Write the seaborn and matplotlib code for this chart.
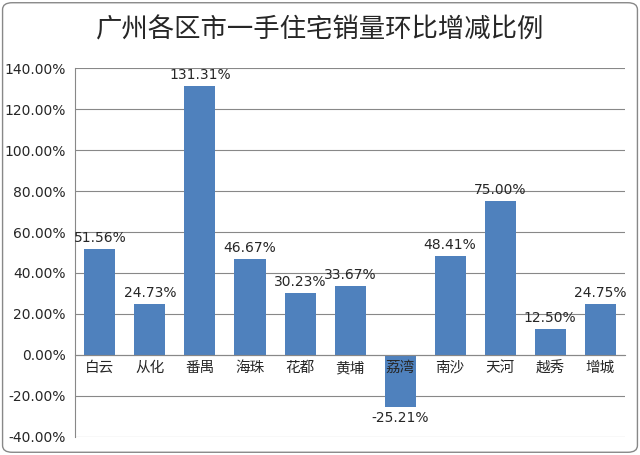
import matplotlib
matplotlib.use("Agg")
import matplotlib.pyplot as plt
import seaborn as sns
import pandas as pd
from matplotlib.patches import FancyBboxPatch

districts = ["白云", "从化", "番禺", "海珠", "花都", "黄埔", "荔湾", "南沙", "天河", "越秀", "增城"]
changes = [51.56, 24.73, 131.31, 46.67, 30.23, 33.67, -25.21, 48.41, 75.00, 12.50, 24.75]
yticks = [-40, -20, 0, 20, 40, 60, 80, 100, 120, 140]

sns.set_style("white")
plt.rcParams["font.family"] = ["Noto Sans CJK SC", "DejaVu Sans"]

df = pd.DataFrame({"district": districts, "change": changes})

fig = plt.figure(figsize=(6.4, 4.55), dpi=100)
fig.patches.append(FancyBboxPatch((0.004, 0.006), 0.992, 0.988, boxstyle="round,pad=0,rounding_size=0.015",
                                  transform=fig.transFigure, fill=False, edgecolor="#888888", linewidth=1))
ax = fig.add_axes([0.117, 0.04, 0.86, 0.81])
sns.barplot(data=df, x="district", y="change", color="#4F81BD", width=0.62, saturation=1,
            edgecolor="none", ax=ax)

ax.set_ylim(-40, 140)
ax.set_yticks(yticks)
ax.set_yticklabels([f"{v:.2f}%" for v in yticks], fontsize=10, fontfamily="DejaVu Sans")
ax.yaxis.grid(True, color="#888888", linewidth=0.8)
ax.set_axisbelow(True)
ax.set_xlabel("")
ax.set_ylabel("")
for s in ["top", "right"]:
    ax.spines[s].set_visible(False)
ax.spines["left"].set_color("#888888")
ax.spines["bottom"].set_position(("data", 0))
ax.spines["bottom"].set_color("#888888")
ax.set_xticklabels([])
ax.tick_params(axis="x", length=0)
ax.tick_params(axis="y", length=3, color="#888888")

for i, name in enumerate(districts):
    ax.text(i, -3, name, ha="center", va="top", fontsize=10.5, zorder=5)

for i, v in enumerate(changes):
    off = 2 if v >= 0 else -2
    ax.text(i, v + off, f"{v:.2f}%", ha="center", va="bottom" if v >= 0 else "top",
            fontsize=10, fontfamily="DejaVu Sans")

fig.text(0.5, 0.935, "广州各区市一手住宅销量环比增减比例", ha="center", va="center", fontsize=19)
fig.savefig("out.png", dpi=100)
